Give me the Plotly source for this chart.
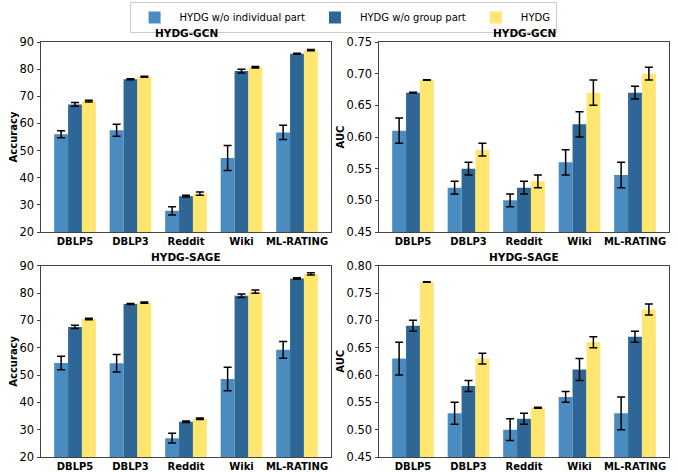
import plotly.graph_objects as go

categories = ["DBLP5", "DBLP3", "Reddit", "Wiki", "ML-RATING"]
series_names = ["HYDG w/o individual part", "HYDG w/o group part", "HYDG"]
colors = ["#4a8bc0", "#2e6696", "#ffe670"]

# Accuracy, HYDG-GCN
acc_gcn = [[56.0, 57.5, 27.8, 47.3, 56.7],
           [67.0, 76.3, 33.2, 79.3, 85.7],
           [68.2, 77.2, 34.1, 80.7, 87.0]]
acc_gcn_err = [[1.3, 2.2, 1.5, 4.6, 2.6],
               [0.7, 0.2, 0.3, 0.7, 0.2],
               [0.3, 0.2, 0.6, 0.3, 0.2]]
# AUC, HYDG-GCN
auc_gcn = [[0.61, 0.52, 0.50, 0.56, 0.54],
           [0.67, 0.55, 0.52, 0.62, 0.67],
           [0.69, 0.58, 0.53, 0.67, 0.70]]
auc_gcn_err = [[0.02, 0.01, 0.01, 0.02, 0.02],
               [0.0005, 0.01, 0.01, 0.02, 0.01],
               [0.0005, 0.01, 0.01, 0.02, 0.01]]
# Accuracy, HYDG-SAGE
acc_sage = [[54.4, 54.3, 26.9, 48.5, 59.2],
            [67.6, 76.0, 32.9, 79.0, 85.3],
            [70.5, 76.5, 34.0, 80.5, 87.0]]
acc_sage_err = [[2.5, 3.2, 1.8, 4.3, 3.1],
                [0.6, 0.2, 0.3, 0.6, 0.3],
                [0.3, 0.2, 0.3, 0.6, 0.4]]
# AUC, HYDG-SAGE
auc_sage = [[0.63, 0.53, 0.50, 0.56, 0.53],
            [0.69, 0.58, 0.52, 0.61, 0.67],
            [0.77, 0.63, 0.54, 0.66, 0.72]]
auc_sage_err = [[0.03, 0.02, 0.02, 0.01, 0.03],
                [0.01, 0.01, 0.01, 0.02, 0.01],
                [0.0005, 0.01, 0.001, 0.01, 0.01]]

panels = [
    dict(vals=acc_gcn, errs=acc_gcn_err, title="HYDG-GCN", ylabel="Accuracy",
         yrange=[20, 90], dtick=10, fmt="d"),
    dict(vals=auc_gcn, errs=auc_gcn_err, title="HYDG-GCN", ylabel="AUC",
         yrange=[0.45, 0.75], dtick=0.05, fmt=".2f"),
    dict(vals=acc_sage, errs=acc_sage_err, title="HYDG-SAGE", ylabel="Accuracy",
         yrange=[20, 90], dtick=10, fmt="d"),
    dict(vals=auc_sage, errs=auc_sage_err, title="HYDG-SAGE", ylabel="AUC",
         yrange=[0.45, 0.80], dtick=0.05, fmt=".2f"),
]

W, H = 678, 472
xdoms = [[41 / W, 331 / W], [379 / W, 669 / W]]
ydoms = [[(H - 232) / H, (H - 42) / H], [(H - 457) / H, (H - 265.7) / H]]

fig = go.Figure()
layout = dict(
    width=W, height=H, margin=dict(l=0, r=0, t=0, b=0, autoexpand=False),
    paper_bgcolor="white", plot_bgcolor="white",
    barmode="group", bargap=0.25, bargroupgap=0,
    font=dict(family="DejaVu Sans", size=10, color="black"),
    showlegend=True,
    legend=dict(orientation="h", x=0.506, xanchor="center", y=0.996, yanchor="top",
                bordercolor="#cccccc", borderwidth=1, font=dict(size=10),
                itemwidth=40, bgcolor="white"),
)
annotations = []
for i, p in enumerate(panels):
    r, c = divmod(i, 2)
    k = i + 1
    xa = "x" if k == 1 else f"x{k}"
    ya = "y" if k == 1 else f"y{k}"
    for s in range(3):
        fig.add_trace(go.Bar(
            x=categories, y=p["vals"][s], name=series_names[s],
            marker=dict(color=colors[s], line=dict(width=0)),
            error_y=dict(type="data", array=p["errs"][s], color="black",
                         thickness=1.5, width=4),
            xaxis=xa, yaxis=ya, showlegend=(i == 0), legendgroup=series_names[s],
        ))
    layout["xaxis" if k == 1 else f"xaxis{k}"] = dict(
        domain=xdoms[c], anchor=ya, range=[-0.6125, 4.6125], automargin=False,
        showline=True, linecolor="#444444", linewidth=1, mirror=True,
        ticks="", tickfont=dict(size=10, family="DejaVu Sans", weight="bold"),
        showgrid=False, zeroline=False,
    )
    layout["yaxis" if k == 1 else f"yaxis{k}"] = dict(
        domain=ydoms[r], anchor=xa, range=p["yrange"], dtick=p["dtick"],
        tick0=p["yrange"][0], tickformat=p["fmt"], automargin=False,
        showline=True, linecolor="#444444", linewidth=1, mirror=True,
        ticks="outside", ticklen=3.5, tickcolor="#444444",
        tickfont=dict(size=11.5), showgrid=False, zeroline=False,
        title=dict(text=p["ylabel"], font=dict(size=10, weight="bold"), standoff=0),
    )
    annotations.append(dict(
        text=f"<b>{p['title']}</b>", xref="paper", yref="paper",
        x=(xdoms[c][0] + xdoms[c][1]) / 2, y=ydoms[r][1], xanchor="center",
        yanchor="bottom", yshift=1, showarrow=False, font=dict(size=10.5),
    ))
layout["annotations"] = annotations
fig.update_layout(**layout)
fig.write_html("out.html", config={"displayModeBar": False},
               post_script="document.body.style.margin='0';")
